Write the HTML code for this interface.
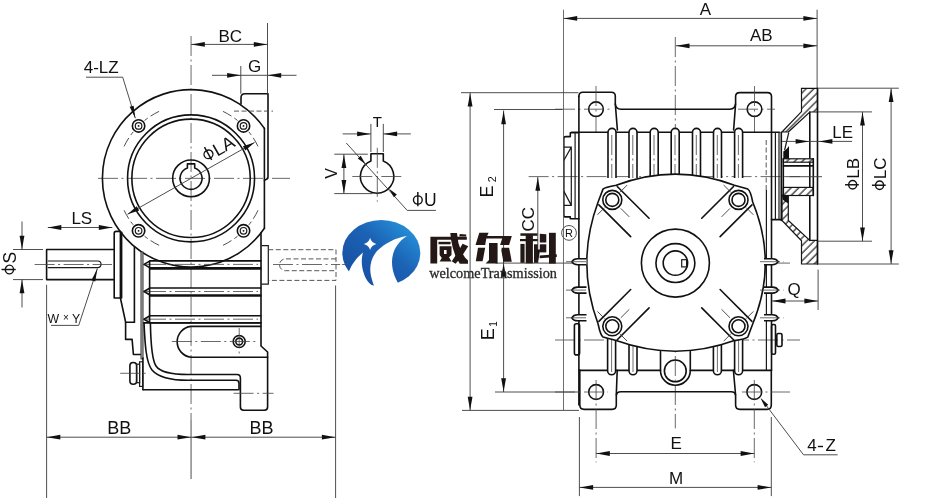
<!DOCTYPE html>
<html><head><meta charset="utf-8"><style>
html,body{margin:0;padding:0;background:#fff;}
svg{display:block;will-change:transform;}
.o{fill:none;stroke:#111;stroke-width:1.6;stroke-linejoin:round;stroke-linecap:round;}
.ow{fill:#fff;stroke:#111;stroke-width:1.6;}
.o1{fill:none;stroke:#1a1a1a;stroke-width:1.2;}
.th{fill:none;stroke:#3a3a3a;stroke-width:0.9;}
.tl{fill:none;stroke:#555;stroke-width:0.85;}
.cl{fill:none;stroke:#444;stroke-width:0.8;stroke-dasharray:20 3.5 2 3.5;}
.hd{fill:none;stroke:#444;stroke-width:0.9;stroke-dasharray:5 2.5;}
.bd{fill:none;stroke:#444;stroke-width:0.8;stroke-dasharray:7 3 2 3;}
.gr{fill:#999;stroke:#222;stroke-width:0.7;}
.ar{fill:#111;stroke:none;}
.fill{fill:#111;stroke:none;}
.hf{fill:url(#h);stroke:#141414;stroke-width:1.2;}
text{font-family:"Liberation Sans",sans-serif;fill:#111;}
</style></head><body>
<svg width="930" height="502" viewBox="0 0 930 502">
<defs><pattern id="h" width="5.4" height="5.4" patternUnits="userSpaceOnUse" patternTransform="rotate(45)"><rect width="5.4" height="5.4" fill="#fff"/><line x1="1" y1="0" x2="1" y2="5.4" stroke="#1a1a1a" stroke-width="1.15"/></pattern></defs>
<rect width="930" height="502" fill="#fff"/>
<line class="cl" x1="191.05" y1="36" x2="191.05" y2="420"/>
<line class="th" x1="191.05" y1="420" x2="191.05" y2="479"/>
<line class="cl" x1="98" y1="178.35" x2="290" y2="178.35"/>
<path class="o" d="M264.4 128.4A88.7 88.7 0 1 0 264.4 228.3"/>
<circle class="o" cx="191.05" cy="178.35" r="63.5"/>
<circle class="o" cx="191.05" cy="178.35" r="59.2"/>
<circle class="o" cx="191.05" cy="178.35" r="18.4"/>
<path class="o" d="M187.4 167.97V163.9H194.7V167.97A11 11 0 1 1 187.4 167.97Z"/>
<path class="th" d="M237.54 236.18A74.2 74.2 0 0 1 234.35 238.61"/>
<path class="th" d="M231.46 240.58A74.2 74.2 0 0 1 222.99 245.32"/>
<path class="th" d="M251.31 221.65A74.2 74.2 0 0 1 248.88 224.84"/>
<path class="th" d="M258.02 210.29A74.2 74.2 0 0 1 253.28 218.76"/>
<path class="th" d="M133.22 224.84A74.2 74.2 0 0 1 130.79 221.65"/>
<path class="th" d="M128.82 218.76A74.2 74.2 0 0 1 124.08 210.29"/>
<path class="th" d="M147.75 238.61A74.2 74.2 0 0 1 144.56 236.18"/>
<path class="th" d="M159.11 245.32A74.2 74.2 0 0 1 150.64 240.58"/>
<path class="th" d="M144.56 120.52A74.2 74.2 0 0 1 147.75 118.09"/>
<path class="th" d="M150.64 116.12A74.2 74.2 0 0 1 159.11 111.38"/>
<path class="th" d="M130.79 135.05A74.2 74.2 0 0 1 133.22 131.86"/>
<path class="th" d="M124.08 146.41A74.2 74.2 0 0 1 128.82 137.94"/>
<path class="th" d="M248.88 131.86A74.2 74.2 0 0 1 251.31 135.05"/>
<path class="th" d="M253.28 137.94A74.2 74.2 0 0 1 258.02 146.41"/>
<path class="th" d="M234.35 118.09A74.2 74.2 0 0 1 237.54 120.52"/>
<path class="th" d="M222.99 111.38A74.2 74.2 0 0 1 231.46 116.12"/>
<circle class="ow" cx="243.52" cy="230.82" r="6.2"/>
<circle class="o1" cx="243.52" cy="230.82" r="3.3"/>
<circle class="fill" cx="243.52" cy="230.82" r="0.9"/>
<circle class="ow" cx="138.58" cy="230.82" r="6.2"/>
<circle class="o1" cx="138.58" cy="230.82" r="3.3"/>
<circle class="fill" cx="138.58" cy="230.82" r="0.9"/>
<circle class="ow" cx="138.58" cy="125.88" r="6.2"/>
<circle class="o1" cx="138.58" cy="125.88" r="3.3"/>
<circle class="fill" cx="138.58" cy="125.88" r="0.9"/>
<circle class="ow" cx="243.52" cy="125.88" r="6.2"/>
<circle class="o1" cx="243.52" cy="125.88" r="3.3"/>
<circle class="fill" cx="243.52" cy="125.88" r="0.9"/>
<line class="th" x1="127.51" y1="214.3" x2="254.59" y2="142.4"/>
<path class="ar" d="M254.59 142.4L245.37 150.49L242.91 146.14Z"/>
<path class="ar" d="M127.51 214.3L136.73 206.21L139.19 210.56Z"/>
<g transform="translate(221.4 154.4) rotate(-29.5)"><ellipse cx="-11.19" cy="-6.48" rx="4.5" ry="4.23" fill="none" stroke="#111" stroke-width="1.38"/><line x1="-11.19" y1="-14.58" x2="-11.19" y2="0" stroke="#111" stroke-width="1.45"/><text x="-4.89" y="0" font-size="18">LA</text></g>
<path class="o" d="M241 104V97.8Q241 93.8 245 93.8H268V176.8Q268 179.4 264.4 180.2"/>
<line class="o" x1="264.4" y1="128.4" x2="264.4" y2="228.3"/>
<line class="hd" x1="234" y1="111.1" x2="273" y2="111.1"/>
<line class="th" x1="267.5" y1="23" x2="267.5" y2="93.8"/>
<line class="th" x1="240.8" y1="66" x2="240.8" y2="93.8"/>
<line class="th" x1="191.1" y1="44.4" x2="267.5" y2="44.4"/>
<path class="ar" d="M191.3 44.4L204.8 42L204.8 46.8Z"/>
<path class="ar" d="M267.3 44.4L253.8 46.8L253.8 42Z"/>
<text class="t" x="230.3" y="41.7" font-size="17" text-anchor="middle">BC</text>
<line class="th" x1="212" y1="75.3" x2="296.5" y2="75.3"/>
<path class="ar" d="M240.6 75.3L227.1 77.7L227.1 72.9Z"/>
<path class="ar" d="M267.7 75.3L281.2 72.9L281.2 77.7Z"/>
<text class="t" x="254.5" y="72.2" font-size="17" text-anchor="middle">G</text>
<text class="t" x="101.2" y="73.2" font-size="17" text-anchor="middle">4-LZ</text>
<line class="th" x1="86" y1="77.2" x2="122.7" y2="77.2"/>
<line class="th" x1="122.7" y1="77.2" x2="135.3" y2="118.2"/>
<path class="ar" d="M135.3 118.2L129.62 106.87L133.64 105.63Z"/>
<path class="o" d="M114.2 298V233.4Q114.2 231.4 116.2 231.4H120.4V298Z"/>
<line class="o" x1="121.6" y1="232.3" x2="121.6" y2="298"/>
<path class="o" d="M120.4 298L125.6 322V339.4H132.1L133.4 354.5H140.6"/>
<line class="o" x1="125.6" y1="322.2" x2="134.4" y2="322.2"/>
<line class="o" x1="134.4" y1="247" x2="134.4" y2="322.2"/>
<rect class="gr" x="140.9" y="252" width="2.2" height="107" rx="0"/>
<line class="o" x1="142.9" y1="358" x2="142.9" y2="389.7"/>
<path class="o" d="M150 260.9L144 264.4L150 267.9H260.8M150 260.9H260.8"/>
<line class="cl" x1="146" y1="264.4" x2="258" y2="264.4"/>
<path class="o" d="M150 288L144 291.5L150 295H260.8M150 288H260.8"/>
<line class="cl" x1="146" y1="291.5" x2="258" y2="291.5"/>
<path class="o" d="M150 315.7L144 319.2L150 322.7H260.8M150 315.7H260.8"/>
<line class="cl" x1="146" y1="319.2" x2="258" y2="319.2"/>
<line class="o" x1="150" y1="268.9" x2="260.8" y2="268.9"/>
<line class="o" x1="150" y1="295.9" x2="260.8" y2="295.9"/>
<line class="o" x1="144" y1="322.9" x2="260.8" y2="322.9"/>
<line class="o" x1="149.6" y1="261" x2="149.6" y2="322"/>
<path class="o" d="M261 232.8V346L267.6 352V407Q267.6 410.2 264.4 410.2H243.6Q240.4 410.2 240.4 407V378Q240.4 374.5 237 374.5H188C172 374.5 160 372 156 366C152 360 150.8 345 150.4 323.2"/>
<path class="o" d="M144 322.9C145 345 146 362 152 370C158 377 172 380.3 188 380.3H236Q239 380.3 239 383.5V389.7"/>
<line class="o" x1="143.2" y1="389.7" x2="238" y2="389.7"/>
<path class="o" d="M260.8 326.4H190.9A15.5 15.5 0 0 0 190.9 357.2H267.6"/>
<circle class="o" cx="239.2" cy="341.5" r="6"/>
<circle class="o" cx="239.2" cy="341.5" r="3.4"/>
<line class="cl" x1="171.8" y1="341.5" x2="257.5" y2="341.5"/>
<line class="cl" x1="239.2" y1="328" x2="239.2" y2="355"/>
<line class="cl" x1="233.6" y1="393.3" x2="273.5" y2="393.3"/>
<rect class="o" x="129.9" y="362.5" width="6.7" height="21.7" rx="3.3"/>
<rect class="o1" x="136.6" y="364.2" width="3" height="18.5" rx="0"/>
<rect class="o1" x="139.6" y="361.8" width="3" height="24.6" rx="0"/>
<line class="cl" x1="120.2" y1="373.3" x2="149.3" y2="373.3"/>
<path class="o" d="M113.5 249.5H46.6V279.6H113.5"/>
<path class="o1" d="M47.8 261H97.7A3.35 3.35 0 0 1 97.7 267.7H47.8"/>
<line class="cl" x1="34.6" y1="264.5" x2="112" y2="264.5"/>
<line class="th" x1="13" y1="249.5" x2="43" y2="249.5"/>
<line class="th" x1="13" y1="279.6" x2="43" y2="279.6"/>
<line class="th" x1="22" y1="221.5" x2="22" y2="249.5"/>
<line class="th" x1="22" y1="279.6" x2="22" y2="307.5"/>
<path class="ar" d="M22 249.3L19.6 235.8L24.4 235.8Z"/>
<path class="ar" d="M22 279.8L24.4 293.3L19.6 293.3Z"/>
<g transform="translate(15.7 263.5) rotate(-90)"><ellipse cx="-6.01" cy="-6.3" rx="4.38" ry="4.11" fill="none" stroke="#111" stroke-width="1.38"/><line x1="-6.01" y1="-14.18" x2="-6.01" y2="0" stroke="#111" stroke-width="1.45"/><text x="0.11" y="0" font-size="17.5">S</text></g>
<line class="th" x1="47.8" y1="227.5" x2="112.3" y2="227.5"/>
<path class="ar" d="M47.8 227.5L61.3 225.1L61.3 229.9Z"/>
<path class="ar" d="M112.3 227.5L98.8 229.9L98.8 225.1Z"/>
<text class="t" x="81.8" y="224.2" font-size="17" text-anchor="middle">LS</text>
<text class="t" x="47.4" y="322.5" font-size="12.3" text-anchor="start">W</text>
<text class="t" x="63" y="321.2" font-size="10" text-anchor="start">&#215;</text>
<text class="t" x="72.1" y="322.5" font-size="12.3" text-anchor="start">Y</text>
<line class="th" x1="51" y1="325.4" x2="78.7" y2="325.4"/>
<line class="th" x1="78.7" y1="325.4" x2="97.4" y2="268.4"/>
<path class="ar" d="M97.4 268.4L95.25 281.38L91.45 280.13Z"/>
<path class="o1" d="M261.5 245.7H268.3V284.2H261.5"/>
<path class="hd" d="M268.3 249.7H336V280.4H268.3"/>
<path class="hd" d="M336 258.9H285.4A5.9 5.9 0 0 0 285.4 270.7H336"/>
<line class="cl" x1="273" y1="264.5" x2="345.5" y2="264.5"/>
<line class="th" x1="46.6" y1="284.8" x2="46.6" y2="498"/>
<line class="th" x1="335.6" y1="285.5" x2="335.6" y2="498"/>
<line class="th" x1="46.6" y1="437.2" x2="335.6" y2="437.2"/>
<path class="ar" d="M46.8 437.2L60.3 434.8L60.3 439.6Z"/>
<path class="ar" d="M191 437.2L177.5 439.6L177.5 434.8Z"/>
<path class="ar" d="M191.9 437.2L205.4 434.8L205.4 439.6Z"/>
<path class="ar" d="M335.4 437.2L321.9 439.6L321.9 434.8Z"/>
<text class="t" x="119.3" y="433.6" font-size="18" text-anchor="middle">BB</text>
<text class="t" x="261.6" y="433.6" font-size="18" text-anchor="middle">BB</text>
<path class="o" d="M370.9 160.99V153.8H383.3V160.99A16.7 16.7 0 1 1 370.9 160.99Z"/>
<line class="cl" x1="352.3" y1="176.5" x2="402.4" y2="176.5"/>
<line class="cl" x1="377.3" y1="147.8" x2="377.3" y2="201.6"/>
<line class="th" x1="370.9" y1="123.9" x2="370.9" y2="152"/>
<line class="th" x1="383.3" y1="123.9" x2="383.3" y2="152"/>
<line class="th" x1="342.7" y1="133.9" x2="370.9" y2="133.9"/>
<line class="th" x1="383.3" y1="133.9" x2="410.8" y2="133.9"/>
<path class="ar" d="M370.6 133.9L357.1 136.3L357.1 131.5Z"/>
<path class="ar" d="M383.6 133.9L397.1 131.5L397.1 136.3Z"/>
<text class="t" x="377.3" y="126.8" font-size="15" text-anchor="middle">T</text>
<line class="th" x1="334.3" y1="154.2" x2="367.8" y2="154.2"/>
<line class="th" x1="334.3" y1="193.6" x2="372.6" y2="193.6"/>
<line class="th" x1="343.9" y1="154.2" x2="343.9" y2="193.6"/>
<path class="ar" d="M343.9 154.4L346.3 167.9L341.5 167.9Z"/>
<path class="ar" d="M343.9 193.4L341.5 179.9L346.3 179.9Z"/>
<text class="t" x="0" y="0" font-size="16" text-anchor="middle" transform="translate(336.5 173.5) rotate(-90)">V</text>
<line class="th" x1="346.3" y1="143" x2="407.2" y2="210.4"/>
<line class="th" x1="407.2" y1="210.4" x2="435.9" y2="210.4"/>
<path class="ar" d="M365.6 164.2L357.75 158.48L360.72 155.81Z"/>
<path class="ar" d="M389 188.8L396.85 194.52L393.88 197.19Z"/>
<g transform="translate(412.05 206.3) rotate(0)"><ellipse cx="5.78" cy="-6.3" rx="4.38" ry="4.11" fill="none" stroke="#111" stroke-width="1.38"/><line x1="5.78" y1="-14.18" x2="5.78" y2="0" stroke="#111" stroke-width="1.45"/><text x="11.9" y="0" font-size="17.5">U</text></g>
<line class="cl" x1="675.3" y1="37" x2="675.3" y2="428.4"/>
<line class="th" x1="495.6" y1="263.1" x2="575" y2="263.1"/>
<line class="cl" x1="575" y1="263.1" x2="790" y2="263.1"/>
<line class="cl" x1="528.6" y1="176.6" x2="800" y2="176.6"/>
<line class="cl" x1="555" y1="340" x2="800" y2="340"/>
<path class="o" d="M578.9 96.2Q578.9 92.2 582.9 92.2H611.3Q615.3 92.2 615.3 96.2V104Q615.8 109.2 621 109.2H729.6Q735.6 109.2 735.6 103V96.6Q735.6 92.6 739.6 92.6H767.5Q771.5 92.6 771.5 96.6V370"/>
<line class="o" x1="615.3" y1="104" x2="617.4" y2="130"/>
<line class="o" x1="735.6" y1="104" x2="733.6" y2="130"/>
<circle class="o" cx="596" cy="109.2" r="7.3"/>
<line class="cl" x1="596" y1="86" x2="596" y2="133"/>
<circle class="o" cx="754.5" cy="109.2" r="7.3"/>
<line class="cl" x1="754.5" y1="86" x2="754.5" y2="133"/>
<line class="cl" x1="555" y1="109.2" x2="610" y2="109.2"/>
<line class="cl" x1="738" y1="109.2" x2="775" y2="109.2"/>
<line class="o" x1="571.4" y1="132.2" x2="779.4" y2="132.2"/>
<path class="o" d="M578.9 132.8H570.3V136.6H565.8Q563.8 136.6 563.8 138.6V214.9Q563.8 216.9 565.8 216.9H570.3V218.8H578.9"/>
<path class="o1" d="M563.8 147.1H571.3V205.4H563.8M563.8 160.5L571.3 147.1M563.8 191.1L571.3 205.4"/>
<line class="o1" x1="575.1" y1="132.8" x2="575.1" y2="218.8"/>
<line class="o" x1="578.9" y1="96.2" x2="578.9" y2="405"/>
<line class="o1" x1="775.4" y1="132.2" x2="775.4" y2="219.6"/>
<line class="o1" x1="779" y1="132.2" x2="779" y2="219.6"/>
<line class="o" x1="771.5" y1="219.6" x2="781" y2="219.6"/>
<line class="o1" x1="766.4" y1="190" x2="766.4" y2="370"/>
<line class="hd" x1="766.2" y1="140" x2="766.2" y2="190"/>
<path class="ow" d="M608 178V132.4A4 4 0 0 1 616 132.4V178"/>
<line class="cl" x1="611.8" y1="135" x2="611.8" y2="178"/>
<path class="ow" d="M629 178V132.4A4 4 0 0 1 637 132.4V178"/>
<line class="cl" x1="632.8" y1="135" x2="632.8" y2="178"/>
<path class="ow" d="M650.2 178V132.4A4 4 0 0 1 658.2 132.4V178"/>
<line class="cl" x1="654" y1="135" x2="654" y2="178"/>
<path class="ow" d="M671.2 178V132.4A4 4 0 0 1 679.2 132.4V178"/>
<line class="cl" x1="675" y1="135" x2="675" y2="178"/>
<path class="ow" d="M692.5 178V132.4A4 4 0 0 1 700.5 132.4V178"/>
<line class="cl" x1="696.3" y1="135" x2="696.3" y2="178"/>
<path class="ow" d="M713.5 178V132.4A4 4 0 0 1 721.5 132.4V178"/>
<line class="cl" x1="717.3" y1="135" x2="717.3" y2="178"/>
<path class="ow" d="M734.6 178V132.4A4 4 0 0 1 742.6 132.4V178"/>
<line class="cl" x1="738.4" y1="135" x2="738.4" y2="178"/>
<line class="o" x1="578.9" y1="370.4" x2="660.5" y2="370.4"/>
<line class="o" x1="690.3" y1="370.4" x2="771.5" y2="370.4"/>
<path class="ow" d="M607.6 336V370.8A4 4 0 0 0 615.6 370.8V336"/>
<line class="tl" x1="611.6" y1="336" x2="611.6" y2="372"/>
<path class="ow" d="M629 336V370.8A4 4 0 0 0 637 370.8V336"/>
<line class="tl" x1="633" y1="336" x2="633" y2="372"/>
<path class="ow" d="M713.4 336V370.8A4 4 0 0 0 721.4 370.8V336"/>
<line class="tl" x1="717.4" y1="336" x2="717.4" y2="372"/>
<path class="ow" d="M734.6 336V370.8A4 4 0 0 0 742.6 370.8V336"/>
<line class="tl" x1="738.6" y1="336" x2="738.6" y2="372"/>
<path class="ow" d="M616.2 185.3Q675.4 162.9 734.4 185.3L747.8 189.1Q750.5 190.5 752.7 202Q777.9 263 752.7 324L747.8 337Q746 338.8 734.4 340.6Q675.4 361.9 616.2 340.6L603 337Q600.5 335.5 598.1 324Q575.5 263 598.1 202L603 189.1Q605 187.5 616.2 185.3Z"/>
<line class="o" x1="617.25" y1="186.46" x2="649.07" y2="218.28"/>
<line class="o" x1="598.86" y1="204.85" x2="630.68" y2="236.67"/>
<line class="th" x1="620.79" y1="208.39" x2="629.27" y2="216.87"/>
<circle class="ow" cx="612.3" cy="199.9" r="9.5"/>
<circle class="o" cx="612.3" cy="199.9" r="6.5"/>
<line class="th" x1="604.52" y1="207.68" x2="597.45" y2="214.75"/>
<line class="th" x1="620.08" y1="192.12" x2="627.15" y2="185.05"/>
<line class="o" x1="751.94" y1="204.85" x2="720.12" y2="236.67"/>
<line class="o" x1="733.55" y1="186.46" x2="701.73" y2="218.28"/>
<line class="th" x1="730.01" y1="208.39" x2="721.53" y2="216.87"/>
<circle class="ow" cx="738.5" cy="199.9" r="9.5"/>
<circle class="o" cx="738.5" cy="199.9" r="6.5"/>
<line class="th" x1="730.72" y1="192.12" x2="723.65" y2="185.05"/>
<line class="th" x1="746.28" y1="207.68" x2="753.35" y2="214.75"/>
<line class="o" x1="598.86" y1="321.35" x2="630.68" y2="289.53"/>
<line class="o" x1="617.25" y1="339.74" x2="649.07" y2="307.92"/>
<line class="th" x1="620.79" y1="317.81" x2="629.27" y2="309.33"/>
<circle class="ow" cx="612.3" cy="326.3" r="9.5"/>
<circle class="o" cx="612.3" cy="326.3" r="6.5"/>
<line class="th" x1="620.08" y1="334.08" x2="627.15" y2="341.15"/>
<line class="th" x1="604.52" y1="318.52" x2="597.45" y2="311.45"/>
<line class="o" x1="733.55" y1="339.74" x2="701.73" y2="307.92"/>
<line class="o" x1="751.94" y1="321.35" x2="720.12" y2="289.53"/>
<line class="th" x1="730.01" y1="317.81" x2="721.53" y2="309.33"/>
<circle class="ow" cx="738.5" cy="326.3" r="9.5"/>
<circle class="o" cx="738.5" cy="326.3" r="6.5"/>
<line class="th" x1="746.28" y1="318.52" x2="753.35" y2="311.45"/>
<line class="th" x1="730.72" y1="334.08" x2="723.65" y2="341.15"/>
<circle class="o" cx="675.4" cy="263.1" r="34"/>
<circle class="o" cx="675.4" cy="263.1" r="19.45"/>
<circle class="o" cx="675.4" cy="263.1" r="12.2"/>
<rect class="o1" x="681.7" y="259.7" width="4.9" height="7.2" rx="0"/>
<path class="ow" d="M586.5 258.7H577.5Q573.5 258.7 571.8 261.7Q573.5 264.7 577.5 264.7H586.5"/>
<path class="ow" d="M764 258.7H772.5Q776.5 258.7 778.2 261.7Q776.5 264.7 772.5 264.7H764"/>
<line class="cl" x1="566" y1="261.7" x2="588" y2="261.7"/>
<line class="cl" x1="760" y1="261.7" x2="784" y2="261.7"/>
<path class="ow" d="M586.5 287.1H577.5Q573.5 287.1 571.8 290.1Q573.5 293.1 577.5 293.1H586.5"/>
<path class="ow" d="M764 287.1H772.5Q776.5 287.1 778.2 290.1Q776.5 293.1 772.5 293.1H764"/>
<line class="cl" x1="566" y1="290.1" x2="588" y2="290.1"/>
<line class="cl" x1="760" y1="290.1" x2="784" y2="290.1"/>
<path class="ow" d="M586.5 314.8H577.5Q573.5 314.8 571.8 317.8Q573.5 320.8 577.5 320.8H586.5"/>
<path class="ow" d="M764 314.8H772.5Q776.5 314.8 778.2 317.8Q776.5 320.8 772.5 320.8H764"/>
<line class="cl" x1="566" y1="317.8" x2="588" y2="317.8"/>
<line class="cl" x1="760" y1="317.8" x2="784" y2="317.8"/>
<rect class="o" x="574.4" y="323.8" width="5.2" height="31.1" rx="2"/>
<rect class="o" x="771.6" y="324.5" width="3.9" height="29.7" rx="1.5"/>
<rect class="o" x="776.8" y="333.5" width="5.2" height="13" rx="1.5"/>
<line class="o" x1="617.2" y1="370.2" x2="616.3" y2="395"/>
<line class="o" x1="733.4" y1="370.2" x2="735.6" y2="395"/>
<path class="o" d="M579.8 370V405Q579.8 409.4 584.2 409.4H612Q616.3 409.4 616.3 405V396Q616.3 391.8 621 391.8H731Q735.6 391.8 735.6 396V405Q735.6 409.4 740 409.4H767Q771.3 409.4 771.3 405V370"/>
<path class="o" d="M660.5 351.6V370.4A14.9 14.9 0 0 0 690.3 370.4V351.6"/>
<circle class="o" cx="675.3" cy="370.9" r="10.9"/>
<circle class="o" cx="596.1" cy="392" r="7.4"/>
<line class="cl" x1="596.1" y1="380" x2="596.1" y2="462.3"/>
<circle class="o" cx="754.3" cy="392" r="7.4"/>
<line class="cl" x1="754.3" y1="380" x2="754.3" y2="462.3"/>
<line class="cl" x1="555" y1="392" x2="608" y2="392"/>
<line class="cl" x1="742" y1="392" x2="790" y2="392"/>
<path class="hf" d="M788.3 132L809.8 112H817.5V88.4H801.5V111.6L782 132Z"/>
<path class="o1" d="M788.8 132.5Q786.5 142 784.6 150"/>
<path class="hf" d="M782 195H788.3V220.4L809.8 240.4H817.5V264H801.5V240.8L782 220.4Z"/>
<line class="o" x1="809.8" y1="112" x2="809.8" y2="240.4"/>
<line class="o" x1="817.5" y1="88.4" x2="817.5" y2="264"/>
<rect class="hf" x="783.3" y="158.8" width="30" height="3.4" rx="0"/>
<rect class="hf" x="783.3" y="187.4" width="30" height="8.1" rx="0"/>
<line class="o" x1="783.3" y1="165.9" x2="813.3" y2="165.9"/>
<line class="o" x1="783.3" y1="158.8" x2="783.3" y2="195.5"/>
<line class="o" x1="813.3" y1="158.8" x2="813.3" y2="195.5"/>
<line class="th" x1="786" y1="176.7" x2="822" y2="176.7"/>
<path class="fill" d="M783.3 158.8H789V146Q786.5 150 783.3 151.5Z"/>
<path class="fill" d="M782.6 195H788.3V203.4Q785 201.4 782.6 199.4Z"/>
<line class="o" x1="781.3" y1="132.2" x2="781.3" y2="220.4"/>
<line class="th" x1="817.8" y1="88.2" x2="898.8" y2="88.2"/>
<line class="th" x1="817.8" y1="264" x2="898.8" y2="264"/>
<line class="th" x1="817.8" y1="111.9" x2="872" y2="111.9"/>
<line class="th" x1="817.8" y1="241.2" x2="872" y2="241.2"/>
<line class="th" x1="891.1" y1="88.4" x2="891.1" y2="264"/>
<path class="ar" d="M891.1 88.6L893.5 102.1L888.7 102.1Z"/>
<path class="ar" d="M891.1 263.8L888.7 250.3L893.5 250.3Z"/>
<line class="th" x1="862.5" y1="111.8" x2="862.5" y2="241.2"/>
<path class="ar" d="M862.5 112L864.9 125.5L860.1 125.5Z"/>
<path class="ar" d="M862.5 241L860.1 227.5L864.9 227.5Z"/>
<g transform="translate(885.7 174.2) rotate(-90)"><ellipse cx="-11.03" cy="-6.12" rx="4.25" ry="3.99" fill="none" stroke="#111" stroke-width="1.38"/><line x1="-11.03" y1="-13.77" x2="-11.03" y2="0" stroke="#111" stroke-width="1.45"/><text x="-5.08" y="0" font-size="17">LC</text></g>
<g transform="translate(858.8 174.2) rotate(-90)"><ellipse cx="-10.57" cy="-6.12" rx="4.25" ry="3.99" fill="none" stroke="#111" stroke-width="1.38"/><line x1="-10.57" y1="-13.77" x2="-10.57" y2="0" stroke="#111" stroke-width="1.45"/><text x="-4.62" y="0" font-size="17">LB</text></g>
<text class="t" x="842.6" y="137.6" font-size="17" text-anchor="middle">LE</text>
<line class="th" x1="782" y1="141.4" x2="852.1" y2="141.4"/>
<path class="ar" d="M809.1 141.4L795.6 143.8L795.6 139Z"/>
<path class="ar" d="M818.9 141.4L832.4 139L832.4 143.8Z"/>
<line class="th" x1="818.1" y1="269.6" x2="818.1" y2="310"/>
<line class="th" x1="771.8" y1="301" x2="818.1" y2="301"/>
<path class="ar" d="M772 301L785.5 298.6L785.5 303.4Z"/>
<path class="ar" d="M817.9 301L804.4 303.4L804.4 298.6Z"/>
<text class="t" x="794.2" y="295" font-size="17" text-anchor="middle">Q</text>
<line class="tl" x1="563.5" y1="9.7" x2="563.5" y2="410"/>
<line class="th" x1="817.1" y1="9.7" x2="817.1" y2="88.4"/>
<line class="th" x1="563.5" y1="18.4" x2="817.1" y2="18.4"/>
<path class="ar" d="M563.7 18.4L577.2 16L577.2 20.8Z"/>
<path class="ar" d="M816.9 18.4L803.4 20.8L803.4 16Z"/>
<text class="t" x="705.3" y="14.5" font-size="17" text-anchor="middle">A</text>
<line class="th" x1="675.8" y1="45.8" x2="817.1" y2="45.8"/>
<path class="ar" d="M676 45.8L689.5 43.4L689.5 48.2Z"/>
<path class="ar" d="M816.9 45.8L803.4 48.2L803.4 43.4Z"/>
<text class="t" x="761.3" y="41.3" font-size="17" text-anchor="middle">AB</text>
<line class="th" x1="461" y1="92.7" x2="578.4" y2="92.7"/>
<line class="th" x1="494" y1="109.5" x2="562.5" y2="109.5"/>
<line class="th" x1="462" y1="410.4" x2="579" y2="410.4"/>
<line class="th" x1="470.1" y1="92.7" x2="470.1" y2="410.4"/>
<path class="ar" d="M470.1 92.9L472.5 106.4L467.7 106.4Z"/>
<path class="ar" d="M470.1 410.2L467.7 396.7L472.5 396.7Z"/>
<line class="th" x1="503.6" y1="110.5" x2="503.6" y2="392"/>
<path class="ar" d="M503.6 110.8L506 124.3L501.2 124.3Z"/>
<path class="ar" d="M503.6 262.9L501.2 249.4L506 249.4Z"/>
<path class="ar" d="M503.6 263.3L506 276.8L501.2 276.8Z"/>
<path class="ar" d="M503.6 391.8L501.2 378.3L506 378.3Z"/>
<line class="th" x1="537.8" y1="177" x2="537.8" y2="263"/>
<path class="ar" d="M537.8 177.2L540.2 190.7L535.4 190.7Z"/>
<path class="ar" d="M537.8 262.9L535.4 249.4L540.2 249.4Z"/>
<line class="th" x1="495" y1="392" x2="579" y2="392"/>
<text x="0" y="0" font-size="18" transform="translate(493 197.4) rotate(-90)">E<tspan x="15.2" dy="3.4" font-size="10.8">2</tspan></text>
<text x="0" y="0" font-size="18" transform="translate(494.3 340.3) rotate(-90)">E<tspan x="13.6" dy="2.4" font-size="10">1</tspan></text>
<text class="t" x="0" y="0" font-size="17" text-anchor="middle" transform="translate(534.2 219.3) rotate(-90)">CC</text>
<line class="th" x1="579.4" y1="417" x2="579.4" y2="496.1"/>
<line class="th" x1="771.3" y1="417" x2="771.3" y2="496.1"/>
<line class="th" x1="596.1" y1="453.5" x2="754.3" y2="453.5"/>
<path class="ar" d="M596.3 453.5L609.8 451.1L609.8 455.9Z"/>
<path class="ar" d="M754.1 453.5L740.6 455.9L740.6 451.1Z"/>
<text class="t" x="676.2" y="448.7" font-size="17" text-anchor="middle">E</text>
<line class="th" x1="579.4" y1="487.4" x2="771.3" y2="487.4"/>
<path class="ar" d="M579.6 487.4L593.1 485L593.1 489.8Z"/>
<path class="ar" d="M771.1 487.4L757.6 489.8L757.6 485Z"/>
<text class="t" x="676.2" y="483.9" font-size="17" text-anchor="middle">M</text>
<line class="th" x1="761.6" y1="399.4" x2="803.5" y2="454.8"/>
<line class="th" x1="803.5" y1="454.8" x2="837.7" y2="454.8"/>
<path class="ar" d="M760.6 398.1L768.23 404.87L765.04 407.28Z"/>
<text class="t" x="807.3" y="451" font-size="17" text-anchor="start">4</text>
<rect x="817.9" y="445.8" width="5.1" height="1.4" fill="#111"/>
<text class="t" x="825.6" y="451" font-size="17" text-anchor="start">Z</text>

<defs>
<linearGradient id="lg" x1="0" y1="1" x2="1" y2="0">
<stop offset="0" stop-color="#174a9c"/>
<stop offset="0.55" stop-color="#1b62b5"/>
<stop offset="1" stop-color="#2aa0e4"/>
</linearGradient>
</defs>
<g>
<ellipse cx="381.3" cy="253" rx="39" ry="33" fill="url(#lg)"/>
<path fill="#fff" d="M407 235.9C396 237.5 385 243 377 251C371 258 369 267 371 276C372 281 374 285 375 289L402 289C396 281 392 272 392 262C392 252 397 242 407 235.9Z"/>
<path fill="#fff" d="M340 262L348.5 272.6C351 266 355 259 363 252.6C361 259 361.5 267 364 274C366 280 370 285 374.8 287L341 292Z"/>
<path fill="#fff" d="M370.1 237.8Q371.2 242.6 376.4 243.9Q371.2 245.2 370.1 250.1Q369 245.2 363.8 243.9Q369 242.6 370.1 237.8Z"/>
</g>

<text x="429.2" y="278.4" style="font-family:'Liberation Serif',serif;font-size:14.2px;fill:#2a2a2a;stroke:#2a2a2a;stroke-width:0.3" textLength="127.8" lengthAdjust="spacingAndGlyphs">welcomeTransmission</text>
<circle cx="569" cy="232.9" r="7.4" fill="none" stroke="#555" stroke-width="1"/>
<text x="569" y="237" font-family="Liberation Sans" font-size="11" fill="#555" text-anchor="middle">R</text>
<path fill="#231815" d="M430.4 236.8L466.8 236.8L466.8 239.8L437.2 239.8L437.2 263.6L430.4 263.6Z"/>
<path fill="#231815" d="M459.7 234L466.2 234.6L466.2 236.6L459.4 236.6Z"/>
<path fill="#231815" d="M438.5 241.8L450.6 241.8L450.6 244.3L438.5 244.3Z"/>
<path fill="#231815" d="M450.3 232.9L457 232.9L458.4 243L461.3 251.5L465 257.5L468 260.5L468 263.8L459.8 263.8L455.8 257L452.8 248L451.1 240Z"/>
<path fill="#231815" d="M462.6 243.8L468.2 246.2L461 257.5L455.5 263.8L451.8 261.2L457.5 252.5Z"/>
<path fill="#231815" fill-rule="evenodd" d="M439.6 246.2L451.5 246.2L451.5 255L449 257.2L451.5 261.5L439.6 261.5L441.8 258L439.6 255ZM444 250L446.6 250L446.6 254L444 254Z"/>
<path fill="#231815" d="M479.3 232.7L488.6 232.7L487.2 236.1L511.8 236.1L509.1 244.9L500.1 244.9L502.2 238.4L486.3 238.4L485.2 244.9L475.5 244.9Z"/>
<path fill="#231815" d="M489 243.1L497.6 243.1L497.6 263.6L485.6 263.6L489 260Z"/>
<path fill="#231815" d="M478 247.8L485.2 247.8L482.6 261.3L475.8 261.3Z"/>
<path fill="#231815" d="M501.5 247.8L509.1 247.8L511.8 261.7L503.8 261.7Z"/>
<path fill="#231815" d="M520.4 233.3L537.5 233.3L537.5 235.8L520.4 235.8Z"/>
<path fill="#231815" d="M520 239L537.8 239L537.8 241.2L520 241.2Z"/>
<path fill="#231815" d="M525.7 234.5L532.9 234.5L532.9 263.3L525.7 263.3Z"/>
<path fill="#231815" d="M520.4 243.9L524.6 243.9L524.6 262.8L520.4 262.8Z"/>
<path fill="#231815" d="M534 244.3L537.8 244.3L537.8 262.8L534 262.8Z"/>
<path fill="#231815" d="M549 232.8L555.8 232.8L555.8 263.6L549 263.6Z"/>
<path fill="#231815" d="M539.8 233.8L546.3 234.3L546.3 242.6L539.8 242.6Z"/>
<path fill="#231815" d="M539.8 244.3L546.3 244.3L546.3 252.4L539.8 252.4Z"/>
<path fill="#231815" d="M539.6 255.6L556.8 254.2L556.8 256.9L539.6 258.3Z"/>
</svg></body></html>
